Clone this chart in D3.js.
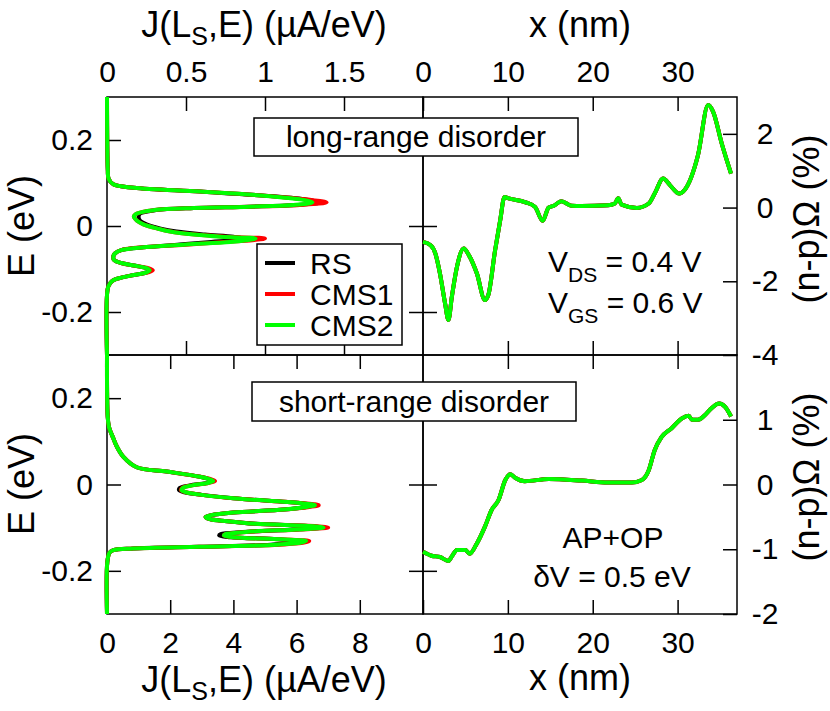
<!DOCTYPE html>
<html>
<head>
<meta charset="utf-8">
<script src="https://cdn.jsdelivr.net/npm/d3@7.9.0/dist/d3.min.js"></script>
<style>
  body { margin: 0; background: #fff; }
  svg text { font-family: "Liberation Sans", Arial, Helvetica, sans-serif; fill: #000; }
</style>
</head>
<body>
<svg id="chart" width="830" height="711"></svg>
<script>
// series shared by all four panels
const seriesNames = ['RS', 'CMS1', 'CMS2'];
const seriesColors = ['#000000', '#ff0000', '#00ff00'];

// long-range disorder: current spectrum J(LS,E), E in eV, J in uA/eV
const eLong = [0.30, 0.13, 0.11, 0.097, 0.089, 0.080, 0.070, 0.062, 0.055, 0.049, 0.045, 0.042, 0.037, 0.029,
  0.022, 0.012, 0.004, -0.006, -0.013, -0.020, -0.025, -0.029, -0.033, -0.037, -0.043, -0.049, -0.056, -0.064,
  -0.071, -0.079, -0.086, -0.092, -0.098, -0.103, -0.108, -0.114, -0.120, -0.126, -0.133, -0.145, -0.30];
const jLongRS = [0, 0.005, 0.01, 0.04, 0.17, 0.59, 1.02, 1.25, 1.35, 1.20, 0.90, 0.55, 0.31, 0.21,
  0.20, 0.21, 0.25, 0.34, 0.44, 0.62, 0.80, 0.86, 0.80, 0.66, 0.46, 0.25, 0.09, 0.05,
  0.04, 0.045, 0.09, 0.17, 0.25, 0.27, 0.25, 0.17, 0.09, 0.04, 0.02, 0.005, 0];
const jLongCMS1 = [0, 0.005, 0.01, 0.04, 0.17, 0.59, 1.02, 1.26, 1.39, 1.22, 0.91, 0.55, 0.30, 0.19,
  0.17, 0.19, 0.23, 0.32, 0.40, 0.56, 0.75, 1.00, 0.92, 0.74, 0.52, 0.25, 0.09, 0.05,
  0.04, 0.045, 0.09, 0.17, 0.26, 0.29, 0.26, 0.17, 0.09, 0.04, 0.02, 0.005, 0];
const jLongCMS2 = [0, 0.005, 0.01, 0.04, 0.17, 0.59, 1.01, 1.22, 1.30, 1.18, 0.90, 0.55, 0.30, 0.19,
  0.17, 0.19, 0.23, 0.32, 0.40, 0.55, 0.72, 0.94, 0.88, 0.78, 0.50, 0.25, 0.09, 0.05,
  0.04, 0.045, 0.09, 0.17, 0.25, 0.27, 0.25, 0.17, 0.09, 0.04, 0.02, 0.005, 0];

// short-range disorder: current spectrum
const eShort = [0.30, 0.16, 0.134, 0.107, 0.088, 0.064, 0.040, 0.030, 0.018, 0.012, 0.008, 0.003, -0.002,
  -0.008, -0.013, -0.018, -0.024, -0.032, -0.043, -0.048, -0.052, -0.058, -0.065, -0.071, -0.075, -0.080,
  -0.085, -0.091, -0.097, -0.100, -0.104, -0.110, -0.115, -0.118, -0.122, -0.127, -0.131, -0.135, -0.140,
  -0.144, -0.148, -0.152, -0.158, -0.18, -0.30];
const jShortRS = [0, 0.02, 0.06, 0.20, 0.31, 0.52, 0.94, 1.89, 2.94, 3.25, 3.36, 3.12, 2.62, 2.30,
  2.28, 2.45, 3.0, 4.0, 6.1, 6.55, 6.3, 5.6, 4.0, 3.3, 3.12, 3.25, 3.8, 4.7, 6.55, 6.8, 6.0, 4.3, 3.6,
  3.55, 3.9, 5.4, 5.9, 5.8, 5.0, 2.9, 0.83, 0.20, 0.08, 0.01, 0];
const jShortCMS1 = [0, 0.02, 0.06, 0.20, 0.31, 0.52, 0.94, 1.89, 2.96, 3.30, 3.42, 3.18, 2.70, 2.38,
  2.34, 2.50, 3.0, 4.0, 6.2, 6.70, 6.4, 5.6, 4.0, 3.3, 3.12, 3.25, 3.8, 4.7, 6.7, 7.00, 6.1, 4.4, 3.75,
  3.70, 4.0, 5.5, 6.4, 6.2, 5.3, 2.94, 0.83, 0.20, 0.08, 0.01, 0];
const jShortCMS2 = [0, 0.02, 0.06, 0.20, 0.31, 0.52, 0.94, 1.89, 2.94, 3.25, 3.36, 3.15, 2.70, 2.40,
  2.36, 2.50, 3.0, 4.0, 6.1, 6.58, 6.3, 5.6, 4.0, 3.3, 3.12, 3.25, 3.8, 4.7, 6.6, 6.85, 6.0, 4.4, 3.75,
  3.70, 4.0, 5.5, 6.3, 6.1, 5.2, 2.94, 0.83, 0.20, 0.08, 0.01, 0];

// long-range disorder: (n-p) Omega along the device, x in nm, value in %
const xLong = [0, 0.9, 1.45, 2.0, 2.6, 3.0, 3.4, 4.0, 4.8, 5.4, 6.35, 7.3, 7.7, 8.5, 9.1, 9.6, 10.1, 12.0,
  13.2, 14.1, 14.8, 15.4, 16.3, 17.5, 18.7, 21.8, 22.6, 23.0, 23.4, 25.2, 26.6, 27.3, 28.3, 29.1, 30.2,
  30.8, 32.4, 33.6, 34.2, 35.2, 36.3];
const omegaLong = [-0.93, -1.02, -1.24, -1.79, -2.6, -3.05, -2.42, -1.61, -1.11, -1.29, -1.79, -2.51, -2.37,
  -1.15, -0.34, 0.29, 0.25, 0.15, 0.02, -0.36, 0.0, 0.05, 0.17, 0.05, 0.04, 0.06, 0.11, 0.25, 0.08, -0.01,
  0.11, 0.38, 0.79, 0.61, 0.38, 0.47, 1.42, 2.78, 2.59, 1.74, 0.92];

// short-range disorder: (n-p) Omega
const xShort = [0, 1.0, 2.0, 3.0, 3.4, 4.0, 5.0, 5.5, 6.35, 7.3, 8.1, 8.9, 9.7, 10.3, 10.9, 12.0, 14.8,
  18.7, 21.8, 24.6, 25.8, 26.6, 27.3, 28.1, 29.3, 30.5, 31.3, 31.7, 32.4, 33.2, 34.0, 34.9, 35.6, 36.3];
const omegaShort = [-1.04, -1.10, -1.12, -1.18, -1.11, -1.01, -1.01, -1.07, -0.91, -0.65, -0.39, -0.24, 0.07,
  0.16, 0.10, 0.05, 0.085, 0.06, 0.03, 0.03, 0.07, 0.22, 0.53, 0.73, 0.87, 1.02, 1.06, 1.0, 1.0, 1.07,
  1.18, 1.25, 1.2, 1.05];

// tick labels
const jTopTicks = [0, 0.5, 1, 1.5];
const jBotTicks = [0, 2, 4, 6, 8];
const eTicks = [-0.2, 0, 0.2];
const xTicks = [0, 10, 20, 30];
const omegaTopTicks = [-4, -2, 0, 2];
const omegaBotTicks = [-2, -1, 0, 1];

const L = 107, M = 423, R = 737, T = 97, MID = 355, B = 614;
const svg = d3.select('#chart');

const xJTop = d3.scaleLinear([0, 2], [L, M]);
const xJBot = d3.scaleLinear([0, 10], [L, M]);
const yETop = d3.scaleLinear([-0.3, 0.3], [MID, T]);
const yEBot = d3.scaleLinear([-0.3, 0.3], [B, MID]);
const xNm = d3.scaleLinear([0, 37], [M, R]);
const yOmTop = d3.scaleLinear([-4, 3], [MID, T]);
const yOmBot = d3.scaleLinear([-2, 2], [B, MID]);

const fmt = d => String(d);

function addAxis(gen, tx, ty, labels) {
  const g = svg.append('g').attr('transform', `translate(${tx},${ty})`).call(gen);
  g.select('.domain').remove();
  g.selectAll('line').attr('stroke', '#000').attr('stroke-width', 1.5);
  g.selectAll('text').attr('font-size', 30).attr('fill', '#000')
    .style('font-family', '"Liberation Sans", Arial, sans-serif');
  if (!labels) g.selectAll('text').remove();
  return g;
}

// frames
[[L, T, M - L, MID - T], [M, T, R - M, MID - T], [L, MID, M - L, B - MID], [M, MID, R - M, B - MID]]
  .forEach(([x, y, w, h]) => {
    svg.append('rect').attr('x', x).attr('y', y).attr('width', w).attr('height', h)
      .attr('fill', 'none').attr('stroke', '#000').attr('stroke-width', 1.5);
  });

// top-left axes
addAxis(d3.axisTop(xJTop).tickValues(jTopTicks).tickSize(-14).tickPadding(15).tickFormat(fmt), 0, T, true);
addAxis(d3.axisBottom(xJTop).tickValues([0.5, 1, 1.5]).tickSize(-14), 0, MID, false);
addAxis(d3.axisLeft(yETop).tickValues(eTicks).tickSize(-14).tickPadding(14).tickFormat(fmt), L, 0, true);
addAxis(d3.axisLeft(yETop).tickValues(eTicks).tickSize(14), M, 0, false);
addAxis(d3.axisRight(yETop).tickValues(eTicks).tickSize(14), M, 0, false);

// bottom-left axes
addAxis(d3.axisTop(xJBot).tickValues([2, 4, 6, 8]).tickSize(-14), 0, MID, false);
addAxis(d3.axisBottom(xJBot).tickValues(jBotTicks).tickSize(-14).tickPadding(18).tickFormat(fmt), 0, B, true);
addAxis(d3.axisLeft(yEBot).tickValues(eTicks).tickSize(-14).tickPadding(14).tickFormat(fmt), L, 0, true);
addAxis(d3.axisLeft(yEBot).tickValues(eTicks).tickSize(14), M, 0, false);
addAxis(d3.axisRight(yEBot).tickValues(eTicks).tickSize(14), M, 0, false);

// right panels axes
addAxis(d3.axisTop(xNm).tickValues(xTicks).tickSize(-14).tickPadding(15).tickFormat(fmt), 0, T, true);
addAxis(d3.axisBottom(xNm).tickValues([10, 20, 30]).tickSize(-14), 0, MID, false);
addAxis(d3.axisTop(xNm).tickValues([10, 20, 30]).tickSize(-14), 0, MID, false);
addAxis(d3.axisBottom(xNm).tickValues(xTicks).tickSize(-14).tickPadding(18).tickFormat(fmt), 0, B, true);
addAxis(d3.axisRight(yOmTop).tickValues(omegaTopTicks).tickSize(-14).tickFormat(fmt), R, 0, true)
  .selectAll('text').attr('x', 28).attr('text-anchor', 'middle');
addAxis(d3.axisRight(yOmBot).tickValues(omegaBotTicks).tickSize(-14).tickFormat(fmt), R, 0, true)
  .selectAll('text').attr('x', 28).attr('text-anchor', 'middle');

// curves
const allJLong = [jLongRS, jLongCMS1, jLongCMS2];
const allJShort = [jShortRS, jShortCMS1, jShortCMS2];

function drawSpectrum(eGrid, jSeries, x, y) {
  const line = d3.line().x(d => x(d[0])).y(d => y(d[1])).curve(d3.curveCatmullRom.alpha(0.5));
  jSeries.forEach((js, i) => {
    svg.append('path')
      .datum(js.map((j, k) => [j, eGrid[k]]))
      .attr('d', line)
      .attr('fill', 'none')
      .attr('stroke', seriesColors[i])
      .attr('stroke-width', 4)
      .attr('stroke-linejoin', 'round');
  });
}

function drawProfile(xs, vs, y) {
  const line = d3.line().x(d => xNm(d[0])).y(d => y(d[1])).curve(d3.curveMonotoneX);
  // the three calculations coincide at this scale
  seriesColors.forEach(c => {
    svg.append('path')
      .datum(xs.map((x, k) => [x, vs[k]]))
      .attr('d', line)
      .attr('fill', 'none')
      .attr('stroke', c)
      .attr('stroke-width', 4)
      .attr('stroke-linejoin', 'round');
  });
}

drawSpectrum(eLong, allJLong, xJTop, yETop);
drawSpectrum(eShort, allJShort, xJBot, yEBot);
drawProfile(xLong, omegaLong, yOmTop);
drawProfile(xShort, omegaShort, yOmBot);

// titles
function jTitle(y) {
  const t = svg.append('text').attr('x', 264).attr('y', y).attr('text-anchor', 'middle').attr('font-size', 36);
  t.append('tspan').text('J(L');
  t.append('tspan').attr('font-size', 25).attr('dy', 8).text('S');
  t.append('tspan').attr('dy', -8).text(',E) (\u00b5A/eV)');
}
jTitle(37);
jTitle(692);
svg.append('text').attr('x', 580).attr('y', 37).attr('text-anchor', 'middle').attr('font-size', 36).text('x (nm)');
svg.append('text').attr('x', 580).attr('y', 690).attr('text-anchor', 'middle').attr('font-size', 36).text('x (nm)');

[226, 484].forEach(cy => {
  svg.append('text').attr('transform', `translate(34,${cy}) rotate(-90)`)
    .attr('text-anchor', 'middle').attr('font-size', 36).text('E (eV)');
});
[219, 477].forEach(cy => {
  svg.append('text').attr('transform', `translate(819,${cy}) rotate(-90)`)
    .attr('text-anchor', 'middle').attr('font-size', 36).text('(n-p)\u03a9 (%)');
});

// panel captions
function caption(x, y, w, h, label) {
  svg.append('rect').attr('x', x).attr('y', y).attr('width', w).attr('height', h)
    .attr('fill', '#fff').attr('stroke', '#000').attr('stroke-width', 1.5);
  svg.append('text').attr('x', x + w / 2).attr('y', y + h / 2 + 10)
    .attr('text-anchor', 'middle').attr('font-size', 30).text(label);
}
caption(254, 118, 324, 38, 'long-range disorder');
caption(252, 382, 324, 39, 'short-range disorder');

// legend
const legend = svg.append('g');
legend.append('rect').attr('x', 257).attr('y', 244).attr('width', 145).attr('height', 101)
  .attr('fill', '#fff').attr('stroke', '#000').attr('stroke-width', 1.5);
seriesNames.forEach((name, i) => {
  const cy = 263 + i * 31;
  legend.append('line').attr('x1', 265).attr('x2', 295).attr('y1', cy).attr('y2', cy)
    .attr('stroke', seriesColors[i]).attr('stroke-width', 4);
  legend.append('text').attr('x', 310).attr('y', cy + 11).attr('font-size', 30).text(name);
});

// annotations
function vLine(y, sub, rest) {
  const t = svg.append('text').attr('x', 548).attr('y', y).attr('font-size', 30);
  t.append('tspan').text('V');
  t.append('tspan').attr('font-size', 21).attr('dy', 10).text(sub);
  t.append('tspan').attr('dy', -10).text(rest);
}
vLine(272, 'DS', ' = 0.4 V');
vLine(313, 'GS', ' = 0.6 V');
svg.append('text').attr('x', 613).attr('y', 548).attr('text-anchor', 'middle').attr('font-size', 30).text('AP+OP');
svg.append('text').attr('x', 612).attr('y', 587).attr('text-anchor', 'middle').attr('font-size', 30).text('\u03b4V = 0.5 eV');
</script>
</body>
</html>
